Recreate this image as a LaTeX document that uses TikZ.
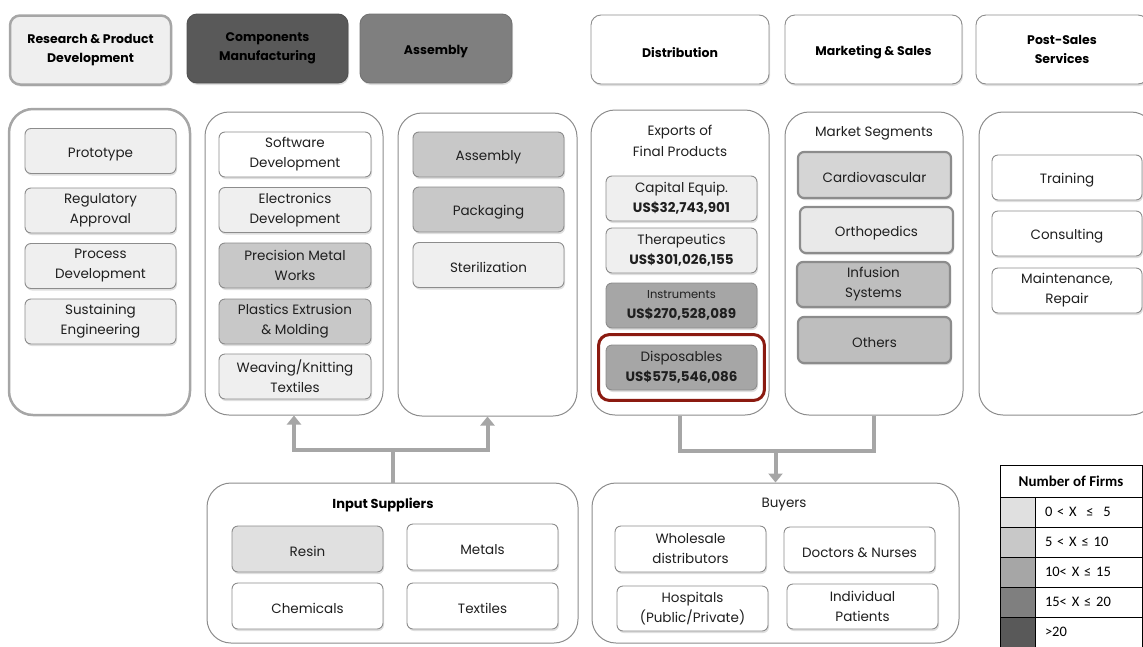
\documentclass[tikz,border=0pt]{standalone}
\usepackage{fontspec}
\setmainfont{Poppins}
\newfontfamily\legendfont{Carlito}
\usetikzlibrary{positioning,arrows.meta,shadows,fit}

\definecolor{rimgray}{HTML}{8C8C8C}
\definecolor{flowgray}{HTML}{A6A6A6}
\definecolor{paleA}{HTML}{EFEFEF}
\definecolor{firmsA}{HTML}{E0E0E0}
\definecolor{firmsB}{HTML}{C8C8C8}
\definecolor{firmsC}{HTML}{A6A6A6}
\definecolor{firmsD}{HTML}{7F7F7F}
\definecolor{firmsE}{HTML}{595959}
\definecolor{framered}{HTML}{8B1A10}

\tikzset{
  cell/.style={draw=rimgray, line width=0.9pt, rounded corners=6pt, align=center,
    inner sep=2pt, text=black!88, font=\fontsize{13.5}{20}\selectfont,
    minimum width=151pt, minimum height=45pt,
    execute at begin node={\rule{0pt}{16pt}},
    drop shadow={shadow xshift=1pt, shadow yshift=-2pt, opacity=0.25}},
  heavycell/.style={cell, line width=2.2pt},
  head/.style={cell, text=black, font=\bfseries\fontsize{12.5}{19}\selectfont,
    rounded corners=10pt, minimum height=69pt},
  lane/.style={draw=rimgray, line width=1pt, rounded corners=24pt,
    minimum width=178pt, minimum height=303pt},
  pool/.style={draw=rimgray, line width=1pt, rounded corners=24pt,
    minimum height=160pt},
  caption/.style={align=center, text=black!88, font=\fontsize{13.5}{21}\selectfont},
  hilite/.style={draw=framered, line width=3pt, rounded corners=11pt},
  flow/.style={draw=flowgray, line width=4pt},
  flowtip/.style={flow, -{Triangle[width=14pt,length=9pt]}},
  swatch/.style={draw=black, line width=0.7pt, minimum width=35pt, minimum height=30pt},
  rangecell/.style={draw=black, line width=0.7pt, minimum width=107pt, minimum height=30pt,
    text width=87pt, inner xsep=10pt, align=left, font=\legendfont\fontsize{14.5}{16}\selectfont}
}

\begin{document}
\begin{tikzpicture}[x=1pt, y=-1pt]
\useasboundingbox (0,0) rectangle (1143,646);

% stage headers
\node[head, fill=paleA, draw=gray!70, line width=2.5pt, minimum width=161pt] (rpdhead) at (90.5,50) {Research \& Product\\Development};
\node[head, fill=firmsE, draw=firmsE!90!black, minimum width=161pt] (cmhead) at (267.5,48.5) {Components\\Manufacturing};
\node[head, fill=firmsD, draw=firmsD!90!black, minimum width=152pt] (asmhead) at (436,48.5) {Assembly};
\node[head, fill=white, minimum width=178pt] (disthead) at (680,49.5) {Distribution};
\node[head, fill=white, minimum width=177pt] (mkthead) at (873.5,49.5) {Marketing \& Sales};
\node[head, fill=white, minimum width=172pt] (posthead) at (1062,49.5) {Post-Sales\\Services};

% stage columns
\node[lane, draw=gray!70, line width=2.5pt, minimum width=181pt, minimum height=306pt] (rpdcol) at (99.5,262) {};
\node[lane] (cmcol) at (294,263.5) {};
\node[lane, minimum width=179pt] (asmcol) at (487.5,264.5) {};
\node[lane, minimum height=305pt] (distcol) at (680,262.5) {};
\node[lane] (mktcol) at (874,263.5) {};
\node[lane, minimum width=176pt] (postcol) at (1067,263.5) {};

% research & product development
\node[cell, fill=paleA] (proto) at (100.5,151) {Prototype};
\node[cell, fill=paleA] (regul) at (100.5,210.5) {Regulatory\\Approval};
\node[cell, fill=paleA] (procdev) at (100.5,266) {Process\\Development};
\node[cell, fill=paleA] (sustain) at (100.5,321.5) {Sustaining\\Engineering};

% components manufacturing
\node[cell, fill=white, minimum width=152pt] (software) at (295,154.5) {Software\\Development};
\node[cell, fill=paleA, minimum width=152pt] (electro) at (295,210) {Electronics\\Development};
\node[cell, fill=firmsB, minimum width=152pt] (metalwk) at (295,265.5) {Precision Metal\\Works};
\node[cell, fill=firmsB, minimum width=152pt] (plastic) at (295,321.5) {Plastics Extrusion\\\& Molding};
\node[cell, fill=paleA, minimum width=152pt] (weaving) at (295,376.5) {Weaving/Knitting\\Textiles};

% assembly
\node[cell, fill=firmsB] (assemb) at (488.5,154.5) {Assembly};
\node[cell, fill=firmsB] (packag) at (488.5,209.5) {Packaging};
\node[cell, fill=paleA] (steril) at (488.5,265) {Sterilization};

% distribution
\node[caption] (exports) at (680,141) {Exports of\\Final Products};
\node[cell, fill=paleA] (capeq) at (681.5,198.5) {Capital Equip.\\\textbf{US\$32,743,901}};
\node[cell, fill=paleA] (therap) at (681.5,250.5) {Therapeutics\\\textbf{US\$301,026,155}};
\node[cell, fill=firmsC] (instru) at (681.5,305.5) {{\fontsize{11.5}{17}\selectfont Instruments}\\\textbf{US\$270,528,089}};
\node[cell, fill=firmsC] (dispos) at (681.5,367.5) {Disposables\\\textbf{US\$575,546,086}};
\node[hilite, fit=(dispos), inner xsep=7pt, inner ysep=10pt] (dispframe) {};

% marketing & sales
\node[caption] (segments) at (874,133) {Market Segments};
\node[heavycell, fill=firmsA!95!black, minimum width=153pt, minimum height=46pt] (cardio) at (874.5,175) {Cardiovascular};
\node[heavycell, fill=firmsA!70!white, minimum width=153pt, minimum height=46pt] (ortho) at (876.5,230) {Orthopedics};
\node[heavycell, fill=firmsB!95!black, minimum width=153pt] (infusion) at (873.5,284.5) {Infusion\\Systems};
\node[heavycell, fill=firmsB!95!black, minimum width=153pt, minimum height=46pt] (others) at (874.5,340) {Others};

% post-sales services
\node[cell, fill=white, minimum width=150pt] (training) at (1067,177.5) {Training};
\node[cell, fill=white, minimum width=150pt] (consult) at (1067,233.5) {Consulting};
\node[cell, fill=white, minimum width=150pt] (maint) at (1067,290.5) {Maintenance,\\Repair};

% input suppliers
\node[pool, minimum width=371pt] (supp) at (392.5,563) {};
\node[caption, font=\bfseries\fontsize{13}{20}\selectfont, text=black] (supptitle) at (383,505) {Input Suppliers};
\node[cell, fill=firmsA, minimum height=46pt] (resin) at (307.5,549) {Resin};
\node[cell, fill=white, minimum height=46pt] (metals) at (482.5,547) {Metals};
\node[cell, fill=white, minimum height=46pt] (chem) at (307.5,606) {Chemicals};
\node[cell, fill=white, minimum height=46pt] (textil) at (482.5,606) {Textiles};

% buyers
\node[pool, minimum width=367pt] (buyers) at (775.5,563) {};
\node[caption] (buytitle) at (784,505) {Buyers};
\node[cell, fill=white, minimum height=46pt] (wholesale) at (690.5,549) {Wholesale\\distributors};
\node[cell, fill=white] (doctors) at (859.5,549.5) {Doctors \& Nurses};
\node[cell, fill=white] (hospit) at (692.5,608.5) {Hospitals\\(Public/Private)};
\node[cell, fill=white] (patients) at (862.5,606.5) {Individual\\Patients};

% flows
\coordinate (split) at ([yshift=33pt]supp.north);
\draw[flow] (supp.north) -- (split);
\draw[flowtip] (split) -| (cmcol.south);
\draw[flowtip] (split) -| (asmcol.south);
\coordinate (merge) at ([yshift=32pt]buyers.north);
\draw[flow] (distcol.south) |- (merge);
\draw[flow] (mktcol.south) |- (merge);
\draw[flowtip] (merge) -- (buyers.north);

% legend
\node[draw=black, line width=0.7pt, minimum width=142pt, minimum height=32pt,
  font=\legendfont\bfseries\fontsize{15}{17}\selectfont] (legendhead) at (1071,481) {Number of Firms};
\foreach \shade/\range [count=\i] in {firmsA/{0 < X ~≤~ 5}, firmsB/{5 < X ≤ 10},
    firmsC/{10< X ≤ 15}, firmsD/{15< X ≤ 20}, firmsE/{>20}} {
  \node[swatch, fill=\shade] (swatch\i) at (1017.5,{482+30*\i}) {};
  \node[rangecell] (range\i) at (1088.5,{482+30*\i}) {\range};
}
\end{tikzpicture}
\end{document}
